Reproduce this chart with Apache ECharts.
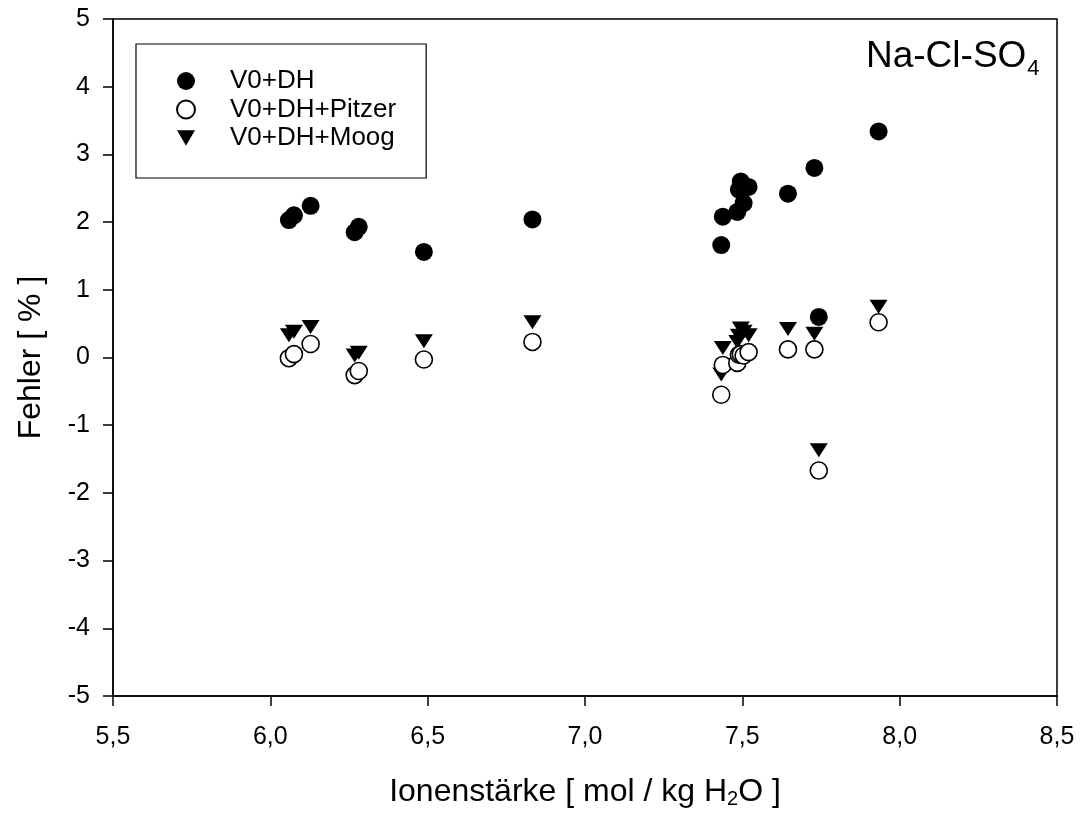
<!DOCTYPE html>
<html>
<head>
<meta charset="utf-8">
<script src="https://cdn.jsdelivr.net/npm/echarts@6/dist/echarts.min.js"></script>
<style>
html,body{margin:0;padding:0;background:#fff;}
#chart{width:1080px;height:814px;}
</style>
</head>
<body>
<div id="chart"></div>
<script>
// Ionic strength (x) shared by all three series
const ionicStrength = [6.059, 6.075, 6.128, 6.268, 6.281, 6.488, 6.833, 7.433, 7.438, 7.484, 7.489, 7.495, 7.504, 7.520, 7.645, 7.729, 7.743, 7.933];
// Error [%] values per method
const errV0DH       = [2.03, 2.10, 2.24, 1.85, 1.93, 1.56, 2.04, 1.66, 2.08, 2.15, 2.48, 2.60, 2.28, 2.52, 2.42, 2.80, 0.60, 3.34];
const errV0DHPitzer = [-0.01, 0.05, 0.20, -0.26, -0.20, -0.03, 0.23, -0.55, -0.11, -0.08, 0.04, 0.05, 0.03, 0.08, 0.12, 0.12, -1.67, 0.52];
const errV0DHMoog   = [0.33, 0.38, 0.45, 0.03, 0.07, 0.24, 0.52, -0.25, 0.14, 0.23, 0.32, 0.43, 0.38, 0.33, 0.42, 0.35, -1.37, 0.75];
const seriesNames = ['V0+DH', 'V0+DH+Pitzer', 'V0+DH+Moog'];

const pairs = (xs, ys) => xs.map((x, i) => [x, ys[i]]);
const FONT = '"Liberation Sans", Arial, sans-serif';
const DOWN_TRI = 'path://M0,0 L10,0 L5,8.5 Z';

const chart = echarts.init(document.getElementById('chart'), null, {renderer: 'canvas'});
chart.setOption({
  animation: false,
  backgroundColor: '#fff',
  textStyle: {fontFamily: FONT, color: '#000'},
  grid: {left: 113, right: 23, top: 19, bottom: 115, show: true, borderColor: '#000', borderWidth: 1.5},
  xAxis: {
    type: 'value', min: 5.5, max: 8.5, interval: 0.5,
    axisLine: {onZero: false, lineStyle: {color: '#000', width: 1.5}},
    axisTick: {show: true, inside: false, length: 10, lineStyle: {color: '#000', width: 1.5}},
    splitLine: {show: false},
    axisLabel: {color: '#000', fontSize: 25, fontFamily: FONT, margin: 29,
      formatter: v => v.toFixed(1).replace('.', ',')},
    name: 'Ionenstärke [ mol / kg H{sub|2}O ]',
    nameLocation: 'middle', nameGap: 80,
    nameTextStyle: {color: '#000', fontSize: 32, fontFamily: FONT,
      rich: {sub: {fontSize: 20, fontFamily: FONT, color: '#000', verticalAlign: 'bottom', padding: [13, 0, 0, 0]}}}
  },
  yAxis: {
    type: 'value', min: -5, max: 5, interval: 1,
    axisLine: {onZero: false, lineStyle: {color: '#000', width: 1.5}},
    axisTick: {show: true, inside: false, length: 10, lineStyle: {color: '#000', width: 1.5}},
    splitLine: {show: false},
    axisLabel: {color: '#000', fontSize: 25, fontFamily: FONT, margin: 23},
    name: 'Fehler [ % ]', nameLocation: 'middle', nameGap: 66,
    nameTextStyle: {color: '#000', fontSize: 32, fontFamily: FONT}
  },
  legend: {
    orient: 'vertical', left: 136, top: 44,
    padding: [24, 30, 27, 40],
    itemGap: 2.5, itemWidth: 18, itemHeight: 18,
    borderColor: '#000', borderWidth: 1.2,
    textStyle: {fontSize: 26, fontFamily: FONT, color: '#000', padding: [0, 0, 0, 30]},
    data: [
      {name: seriesNames[0], icon: 'circle'},
      {name: seriesNames[1], icon: 'circle'},
      {name: seriesNames[2], icon: DOWN_TRI}
    ]
  },
  graphic: [{
    type: 'text', left: 866, top: 38,
    style: {
      text: '{m|Na-Cl-SO}{s|4}',
      rich: {
        m: {fontSize: 37, fontFamily: FONT, fill: '#000'},
        s: {fontSize: 22, fontFamily: FONT, fill: '#000', padding: [24, 0, 0, 1]}
      }
    }
  }],
  series: [
    {
      name: seriesNames[0], type: 'scatter', symbol: 'circle', symbolSize: 18,
      itemStyle: {color: '#000', opacity: 1},
      data: pairs(ionicStrength, errV0DH), z: 2
    },
    {
      name: seriesNames[1], type: 'scatter', symbol: 'circle', symbolSize: 17,
      itemStyle: {color: '#fff', borderColor: '#000', borderWidth: 1.6, opacity: 1},
      data: pairs(ionicStrength, errV0DHPitzer), z: 3
    },
    {
      name: seriesNames[2], type: 'scatter', symbol: 'triangle', symbolSize: [18, 14], symbolRotate: 180,
      itemStyle: {color: '#000', opacity: 1},
      data: pairs(ionicStrength, errV0DHMoog), z: 2
    }
  ]
});
</script>
</body>
</html>
